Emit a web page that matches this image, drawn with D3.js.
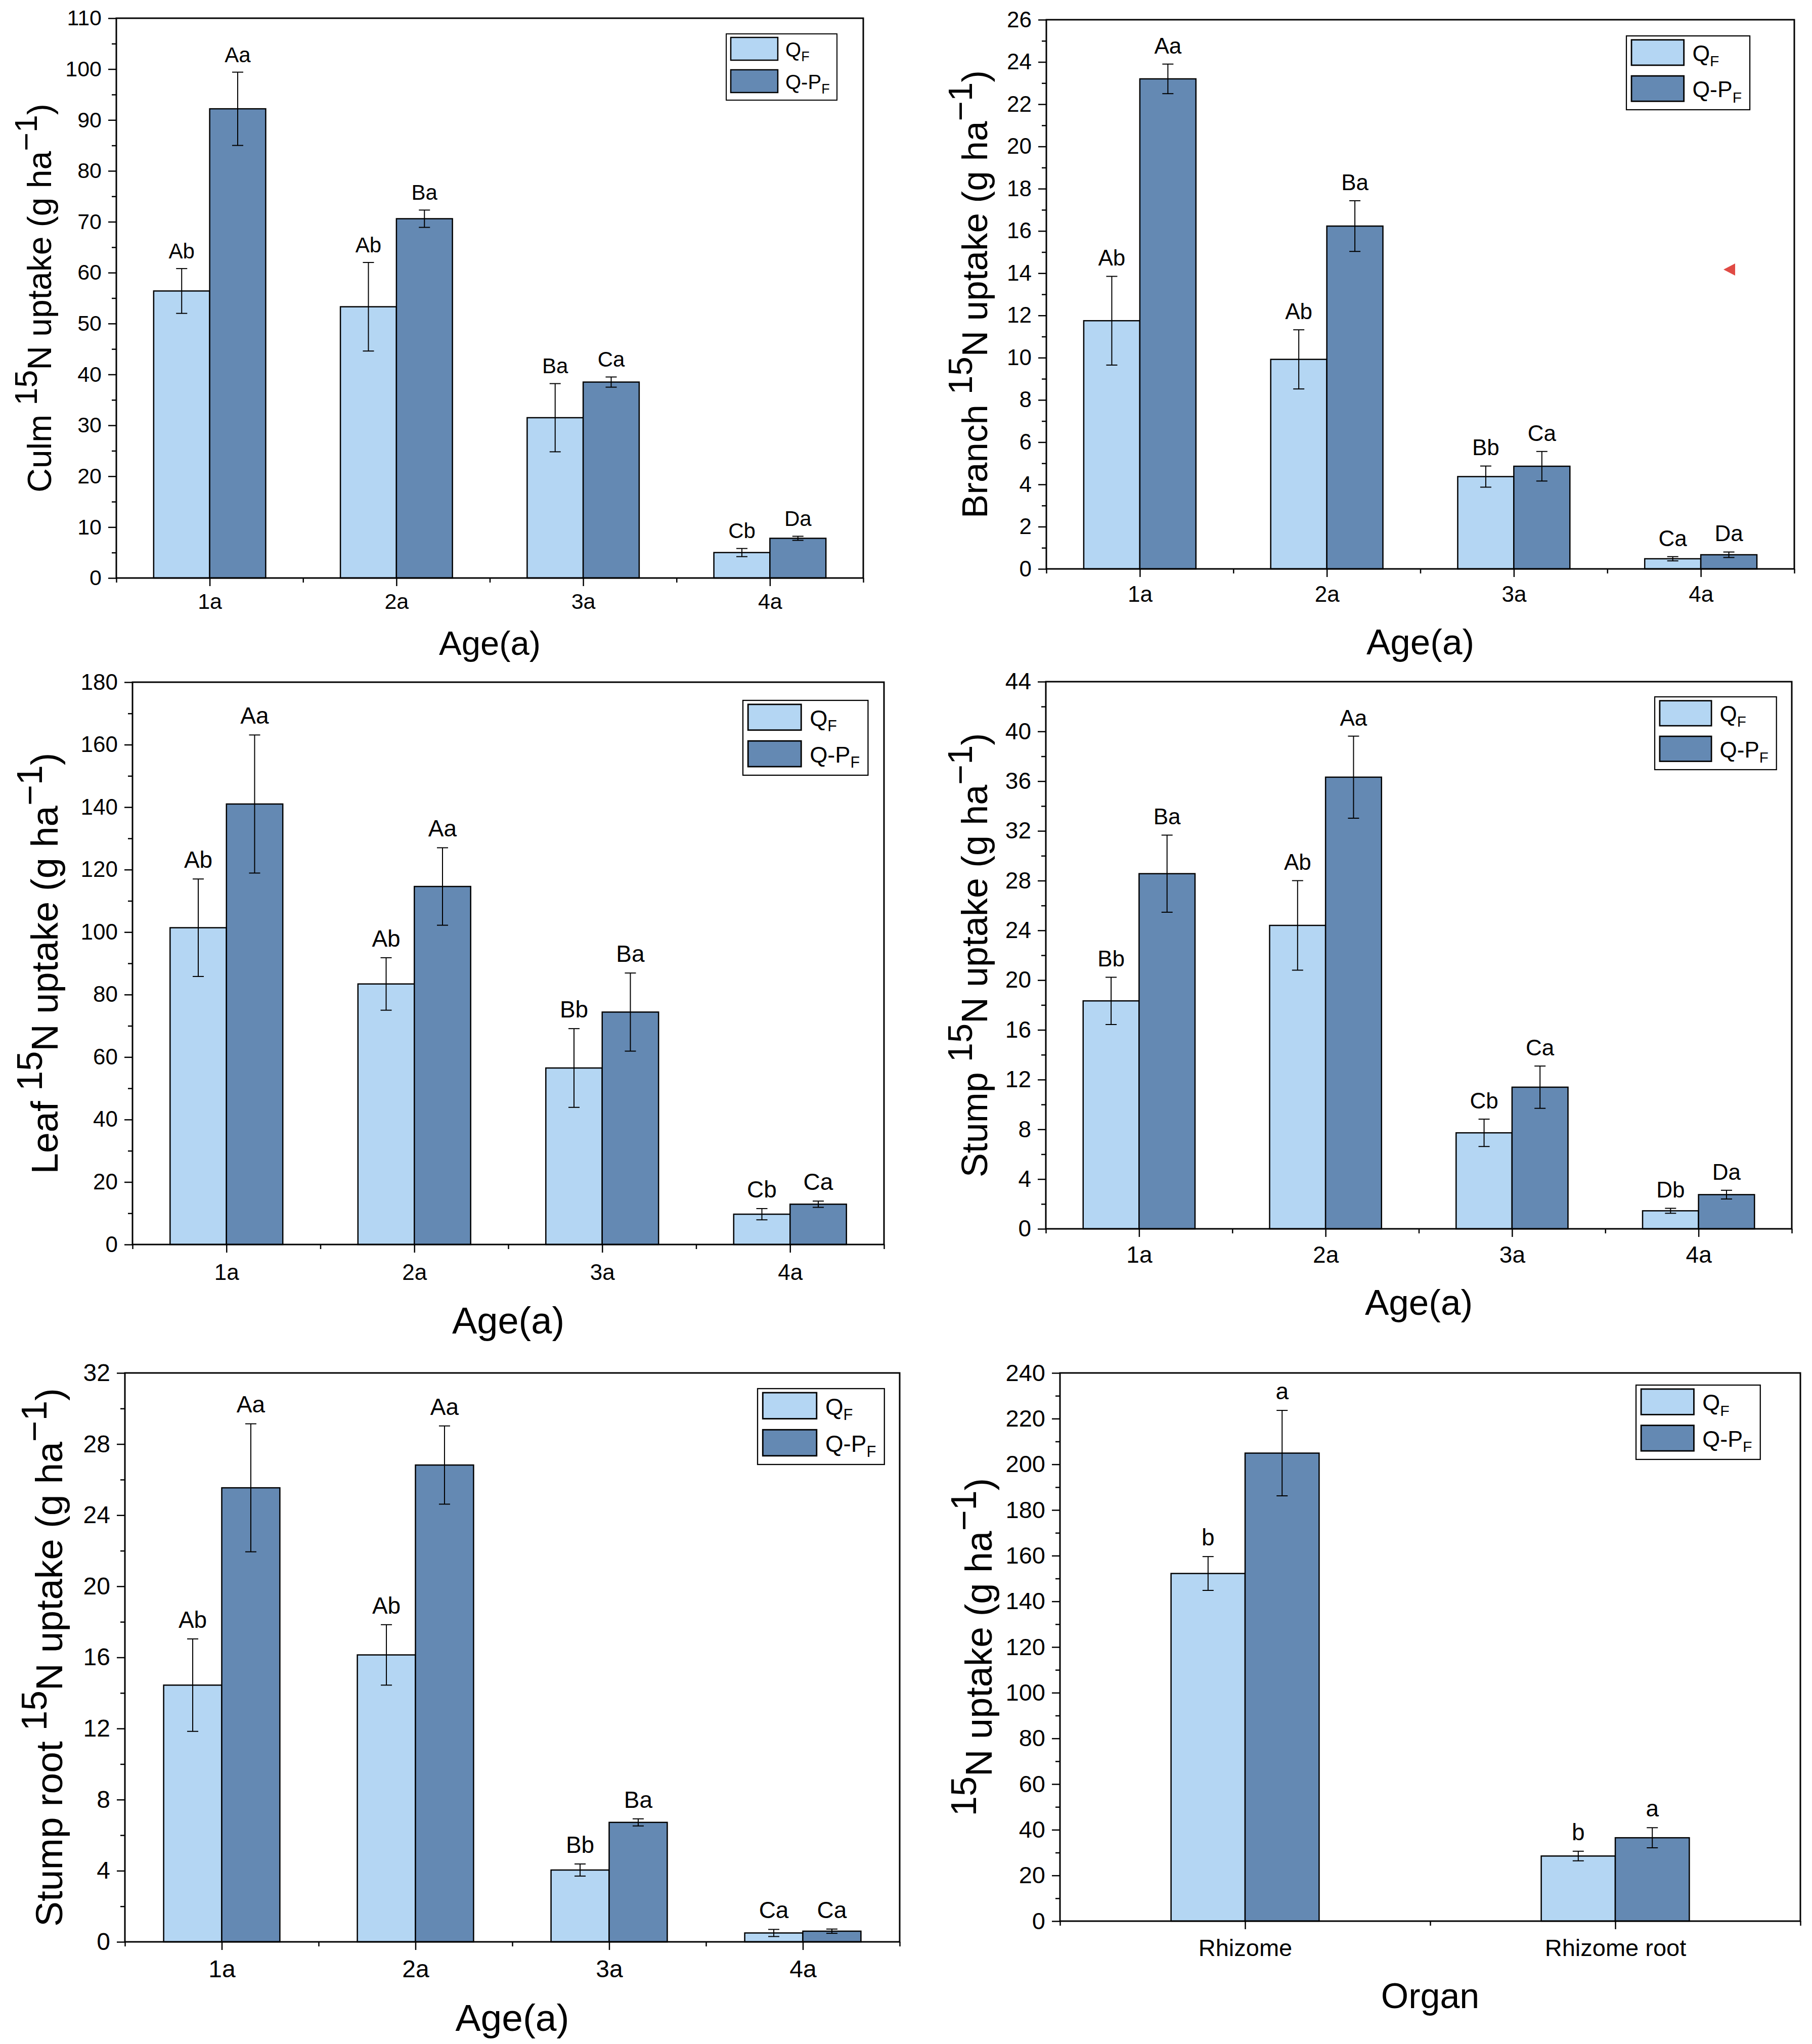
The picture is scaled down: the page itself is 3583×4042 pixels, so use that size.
<!DOCTYPE html>
<html>
<head>
<meta charset="utf-8">
<script src="https://cdn.jsdelivr.net/npm/d3@7"></script>
<style>
    body { margin: 0; background: #fff; }
    svg { display: block; }
    text { font-family: "Liberation Sans", Arial, sans-serif; fill: #000; }
</style>
</head>
<body>
<svg id="chart" width="3583" height="4042"></svg>
<script>

// categories
let ages = ["1a", "2a", "3a", "4a"]
let organs = ["Rhizome", "Rhizome root"]
let seriesNames = ["Q", "Q-P"]

// culm
let culmQF = [56.4, 53.3, 31.5, 5.0]
let culmQFErr = [4.4, 8.7, 6.7, 0.8]
let culmQPF = [92.2, 70.6, 38.5, 7.8]
let culmQPFErr = [7.2, 1.7, 1.0, 0.4]
let culmQFLab = ["Ab", "Ab", "Ba", "Cb"]
let culmQPFLab = ["Aa", "Ba", "Ca", "Da"]

// branch
let branchQF = [11.75, 9.92, 4.37, 0.48]
let branchQFErr = [2.1, 1.4, 0.5, 0.1]
let branchQPF = [23.2, 16.23, 4.86, 0.67]
let branchQPFErr = [0.7, 1.2, 0.7, 0.13]
let branchQFLab = ["Ab", "Ab", "Bb", "Ca"]
let branchQPFLab = ["Aa", "Ba", "Ca", "Da"]

// leaf
let leafQF = [101.4, 83.4, 56.5, 9.7]
let leafQFErr = [15.6, 8.4, 12.6, 1.8]
let leafQPF = [141.0, 114.6, 74.4, 12.9]
let leafQPFErr = [22.1, 12.4, 12.5, 1.0]
let leafQFLab = ["Ab", "Ab", "Bb", "Cb"]
let leafQPFLab = ["Aa", "Aa", "Ba", "Ca"]

// stump
let stumpQF = [18.33, 24.4, 7.72, 1.45]
let stumpQFErr = [1.9, 3.6, 1.1, 0.2]
let stumpQPF = [28.56, 36.32, 11.39, 2.75]
let stumpQPFErr = [3.1, 3.3, 1.7, 0.35]
let stumpQFLab = ["Bb", "Ab", "Cb", "Db"]
let stumpQPFLab = ["Ba", "Aa", "Ca", "Da"]

// stump root
let stumpRootQF = [14.44, 16.14, 4.04, 0.5]
let stumpRootQFErr = [2.6, 1.7, 0.34, 0.2]
let stumpRootQPF = [25.54, 26.82, 6.72, 0.6]
let stumpRootQPFErr = [3.6, 2.2, 0.2, 0.12]
let stumpRootQFLab = ["Ab", "Ab", "Bb", "Ca"]
let stumpRootQPFLab = ["Aa", "Aa", "Ba", "Ca"]

// rhizome
let rhizomeQF = [152.2, 28.5]
let rhizomeQFErr = [7.4, 2.1]
let rhizomeQPF = [204.9, 36.5]
let rhizomeQPFErr = [18.7, 4.4]
let rhizomeQFLab = ["b", "b"]
let rhizomeQPFLab = ["a", "a"]

// y axis max / major step per panel
let yMax = [110, 26, 180, 44, 32, 240]
let yStep = [10, 2, 20, 4, 4, 20]

let colors = ["#b4d6f3", "#6489b3"]

let panels = [
    {organ: "Culm", xTitle: "Age(a)", cats: ages, qf: culmQF, qfErr: culmQFErr, qpf: culmQPF, qpfErr: culmQPFErr, qfLab: culmQFLab, qpfLab: culmQPFLab},
    {organ: "Branch", xTitle: "Age(a)", cats: ages, qf: branchQF, qfErr: branchQFErr, qpf: branchQPF, qpfErr: branchQPFErr, qfLab: branchQFLab, qpfLab: branchQPFLab},
    {organ: "Leaf", xTitle: "Age(a)", cats: ages, qf: leafQF, qfErr: leafQFErr, qpf: leafQPF, qpfErr: leafQPFErr, qfLab: leafQFLab, qpfLab: leafQPFLab},
    {organ: "Stump", xTitle: "Age(a)", cats: ages, qf: stumpQF, qfErr: stumpQFErr, qpf: stumpQPF, qpfErr: stumpQPFErr, qfLab: stumpQFLab, qpfLab: stumpQPFLab},
    {organ: "Stump root", xTitle: "Age(a)", cats: ages, qf: stumpRootQF, qfErr: stumpRootQFErr, qpf: stumpRootQPF, qpfErr: stumpRootQPFErr, qfLab: stumpRootQFLab, qpfLab: stumpRootQPFLab},
    {organ: "", xTitle: "Organ", cats: organs, qf: rhizomeQF, qfErr: rhizomeQFErr, qpf: rhizomeQPF, qpfErr: rhizomeQPFErr, qfLab: rhizomeQFLab, qpfLab: rhizomeQPFLab}
]

// layout in page pixels (kept apart from the data)
let layout = [
    {left: 230, right: 1707, top: 36, bottom: 1143, bar: 0.3, tick: 43, lab: 42, title: 66, titleX: 101, xt: 67, xtY: 1295, xlab: 61, leg: [1436, 67, 131]},
    {left: 2069, right: 3548, top: 39, bottom: 1125, bar: 0.3, tick: 44, lab: 44, title: 71, titleX: 1952, xt: 71, xtY: 1294, xlab: 65, leg: [3216, 71, 146]},
    {left: 262, right: 1748, top: 1349, bottom: 2461, bar: 0.3, tick: 44, lab: 46, title: 74, titleX: 114, xt: 74, xtY: 2637, xlab: 70, leg: [1469, 1385, 148]},
    {left: 2068, right: 3543, top: 1348, bottom: 2430, bar: 0.3, tick: 46, lab: 44, title: 72, titleX: 1952, xt: 71, xtY: 2600, xlab: 67, leg: [3272, 1378, 144]},
    {left: 247, right: 1779, top: 2715, bottom: 3840, bar: 0.3, tick: 48, lab: 46, title: 75, titleX: 123, xt: 75, xtY: 4016, xlab: 70, leg: [1498, 2746, 150]},
    {left: 2096, right: 3560, top: 2715, bottom: 3799, bar: 0.2, tick: 47, lab: 46, title: 74, titleX: 1961, xt: 70, xtY: 3971, xlab: 69, leg: [3235, 2739, 147]}
]

let svg = d3.select("#chart")

function drawPanel(p, L, idx) {
    let g = svg.append("g")
    let n = p.cats.length

    let x = d3.scaleLinear([0.5, n + 0.5], [L.left, L.right])
    let y = d3.scaleLinear([0, yMax[idx]], [L.bottom, L.top])
    let bw = (x(2) - x(1)) * L.bar

    let rows = []
    for (let i = 0; i < n; i++) {
        rows.push({i: i, s: 0, v: p.qf[i], e: p.qfErr[i], lab: p.qfLab[i]})
        rows.push({i: i, s: 1, v: p.qpf[i], e: p.qpfErr[i], lab: p.qpfLab[i]})
    }
    let cx = d => x(d.i + 1) - bw / 2 + d.s * bw

    g.selectAll("rect.bar")
        .data(rows)
        .join("rect")
        .attr("class", "bar")
        .attr("x", d => cx(d) - bw / 2)
        .attr("y", d => y(d.v))
        .attr("width", bw)
        .attr("height", d => y(0) - y(d.v))
        .attr("fill", d => colors[d.s])
        .attr("stroke", "#000")
        .attr("stroke-width", 2.5)

    // error bars
    let cap = 11
    let eb = g.selectAll("g.err").data(rows).join("g").attr("class", "err")
        .attr("stroke", "#000").attr("stroke-width", 2)
    eb.append("line")
        .attr("x1", cx).attr("x2", cx)
        .attr("y1", d => y(d.v + d.e)).attr("y2", d => y(d.v - d.e))
    eb.append("line")
        .attr("x1", d => cx(d) - cap).attr("x2", d => cx(d) + cap)
        .attr("y1", d => y(d.v + d.e)).attr("y2", d => y(d.v + d.e))
    eb.append("line")
        .attr("x1", d => cx(d) - cap).attr("x2", d => cx(d) + cap)
        .attr("y1", d => y(d.v - d.e)).attr("y2", d => y(d.v - d.e))

    // significance letters
    g.selectAll("text.lab")
        .data(rows)
        .join("text")
        .attr("class", "lab")
        .attr("x", cx)
        .attr("y", d => y(d.v + d.e) - L.lab * 0.48)
        .attr("text-anchor", "middle")
        .attr("font-size", L.lab)
        .text(d => d.lab)

    // y axis, major and minor ticks
    let step = yStep[idx]
    let major = d3.range(0, yMax[idx] + step / 2, step)
    let minor = d3.range(step / 2, yMax[idx], step)

    let ya = g.append("g").attr("transform", `translate(${L.left},0)`)
        .call(d3.axisLeft(y).tickValues(major).tickSize(16).tickSizeOuter(0).tickPadding(13))
    ya.selectAll("text").attr("font-size", L.tick).attr("font-family", null)
    g.append("g").attr("transform", `translate(${L.left},0)`)
        .call(d3.axisLeft(y).tickValues(minor).tickSize(9).tickSizeOuter(0).tickFormat(""))

    // x axis
    let xa = g.append("g").attr("transform", `translate(0,${L.bottom})`)
        .call(d3.axisBottom(x).tickValues(d3.range(1, n + 1)).tickFormat(v => p.cats[v - 1])
            .tickSize(16).tickSizeOuter(0).tickPadding(L.xlab - 16 - L.tick * 0.71))
    xa.selectAll("text").attr("font-size", L.tick).attr("font-family", null)
    g.append("g").attr("transform", `translate(0,${L.bottom})`)
        .call(d3.axisBottom(x).tickValues(d3.range(0.5, n + 1, 1)).tickSize(9).tickSizeOuter(0).tickFormat(""))

    g.selectAll(".domain").remove()
    g.selectAll(".tick line").attr("stroke-width", 2.5)

    // frame
    g.append("rect")
        .attr("x", L.left).attr("y", L.top)
        .attr("width", L.right - L.left).attr("height", L.bottom - L.top)
        .attr("fill", "none").attr("stroke", "#000").attr("stroke-width", 3)

    // x title
    g.append("text")
        .attr("x", (L.left + L.right) / 2)
        .attr("y", L.xtY)
        .attr("text-anchor", "middle")
        .attr("font-size", L.xt)
        .text(p.xTitle)

    // y title with superscripts
    let F = L.title
    let sh = F * 0.42
    let t = g.append("text")
        .attr("transform", `translate(${L.titleX},${(L.top + L.bottom) / 2}) rotate(-90)`)
        .attr("text-anchor", "middle")
        .attr("font-size", F)
    if (p.organ) t.append("tspan").text(p.organ + " ")
    t.append("tspan").attr("dy", -sh).attr("font-size", F * 0.95).text("15")
    t.append("tspan").attr("dy", sh).text("N uptake (g ha")
    t.append("tspan").attr("dy", -sh).attr("font-size", F * 0.95).text("\u22121")
    t.append("tspan").attr("dy", sh).text(")")

    // legend
    let k = L.leg[2] / 131
    let lg = g.append("g").attr("transform", `translate(${L.leg[0]},${L.leg[1]}) scale(${k})`)
    lg.append("rect").attr("width", 219).attr("height", 131)
        .attr("fill", "#fff").attr("stroke", "#000").attr("stroke-width", 2)
    let items = lg.selectAll("g.item").data(seriesNames).join("g").attr("class", "item")
        .attr("transform", (d, i) => `translate(0,${i * 64})`)
    items.append("rect")
        .attr("x", 9).attr("y", 7).attr("width", 93).attr("height", 45)
        .attr("fill", (d, i) => colors[i]).attr("stroke", "#000").attr("stroke-width", 2.5)
    let lt = items.append("text").attr("x", 117).attr("y", 45).attr("font-size", 40)
    lt.append("tspan").text(d => d)
    lt.append("tspan").attr("dy", 9).attr("font-size", 27).text("F")
}

panels.forEach((p, i) => drawPanel(p, layout[i], i))

// stray red marker in the branch panel
svg.append("path")
    .attr("d", d3.line()([[3408, 533], [3431, 521], [3431, 545]]) + "Z")
    .attr("fill", "#e04a44")

</script>
</body>
</html>
